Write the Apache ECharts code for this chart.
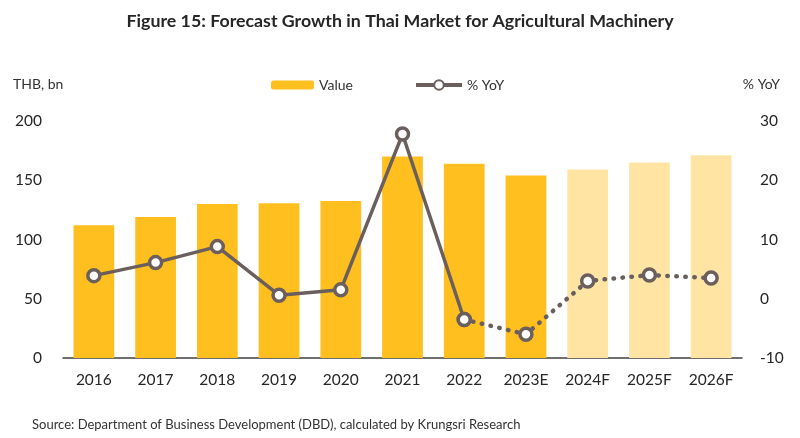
<!DOCTYPE html>
<html>
<head>
<meta charset="utf-8">
<script src="https://cdn.jsdelivr.net/npm/echarts@6/dist/echarts.min.js"></script>
<style>html,body{margin:0;padding:0;background:#fff;}#c{width:800px;height:438px;}</style>
</head>
<body>
<div id="c"></div>
<script>
var categories = ['2016','2017','2018','2019','2020','2021','2022','2023E','2024F','2025F','2026F'];
var values = [112, 119, 130, 130.5, 132.5, 170, 164, 154, 159, 165, 171];
var yoy = [3.9, 6.1, 8.8, 0.6, 1.5, 27.8, -3.5, -6.0, 3.0, 4.0, 3.5];
var forecastFlags = [false,false,false,false,false,false,false,false,true,true,true];
var solidUntil = 6; // index of 2022: solid line up to here, dotted afterwards
var leftTicks = {min: 0, max: 200, interval: 50};
var rightTicks = {min: -10, max: 30, interval: 10};

var DARK = '#FFBF1F', LIGHT = '#FFE4A3', LINE = '#6B5F5D';
var FONT = 'Lato';

var barData = values.map(function(v, i){
  return {value: v, itemStyle: {color: forecastFlags[i] ? LIGHT : DARK}};
});
var solidData = yoy.map(function(v, i){ return i <= solidUntil ? v : null; });
var dotData = yoy.map(function(v, i){ return i >= solidUntil ? v : null; });

var chart = echarts.init(document.getElementById('c'), null, {renderer: 'canvas'});
chart.setOption({
  animation: false,
  backgroundColor: '#fff',
  textStyle: {fontFamily: FONT},
  title: [
    {text: 'Figure 15: Forecast Growth in Thai Market for Agricultural Machinery', left: 'center', top: 7,
     textStyle: {fontFamily: FONT, fontSize: 17.8, fontWeight: 'bold', color: '#262626'}},
    {text: 'Source: Department of Business Development (DBD), calculated by Krungsri Research', left: 27, top: 413,
     textStyle: {fontFamily: FONT, fontSize: 13, fontWeight: 'normal', color: '#333'}},
    {text: 'THB, bn', left: 8, top: 72, textStyle: {fontFamily: FONT, fontSize: 14, fontWeight: 'normal', color: '#333'}},
    {text: '% YoY', right: 15, top: 72, textStyle: {fontFamily: FONT, fontSize: 14, fontWeight: 'normal', color: '#333'}}
  ],
  legend: [
    {data: ['Value'], left: 266, top: 73, itemWidth: 43, itemHeight: 9, itemGap: 6,
     textStyle: {fontFamily: FONT, fontSize: 14, color: '#333'}},
    {data: ['% YoY'], left: 409, top: 73, itemWidth: 46, itemHeight: 12,
     lineStyle: {width: 4, type: 'solid'},
     textStyle: {fontFamily: FONT, fontSize: 14, color: '#333'}}
  ],
  grid: {left: 63, right: 58, top: 121, bottom: 80, containLabel: false},
  xAxis: {
    type: 'category', data: categories,
    axisLine: {lineStyle: {color: '#404040', width: 1.5}},
    axisTick: {show: false},
    axisLabel: {fontFamily: FONT, fontSize: 15.5, color: '#262626', margin: 14}
  },
  yAxis: [
    {type: 'value', min: leftTicks.min, max: leftTicks.max, interval: leftTicks.interval,
     splitLine: {show: false}, axisLine: {show: false}, axisTick: {show: false},
     axisLabel: {fontFamily: FONT, fontSize: 15.5, color: '#262626', margin: 21}},
    {type: 'value', min: rightTicks.min, max: rightTicks.max, interval: rightTicks.interval,
     splitLine: {show: false}, axisLine: {show: false}, axisTick: {show: false},
     axisLabel: {fontFamily: FONT, fontSize: 15.5, color: '#262626', margin: 18}}
  ],
  series: [
    {name: 'Value', type: 'bar', data: barData, barCategoryGap: '34%', yAxisIndex: 0,
     itemStyle: {color: DARK}},
    {name: '% YoY', type: 'line', data: solidData, yAxisIndex: 1, connectNulls: false,
     lineStyle: {color: LINE, width: 3.5}, itemStyle: {color: '#fff', borderColor: LINE, borderWidth: 3.5},
     symbol: 'circle', symbolSize: 12, z: 5},
    {name: '% YoY', type: 'line', data: dotData, yAxisIndex: 1, connectNulls: false,
     lineStyle: {color: LINE, width: 4.5, type: [0.5, 8.5], cap: 'round'},
     itemStyle: {color: '#fff', borderColor: LINE, borderWidth: 3.5},
     symbol: 'circle', symbolSize: 12, z: 4}
  ]
});
</script>
</body>
</html>
